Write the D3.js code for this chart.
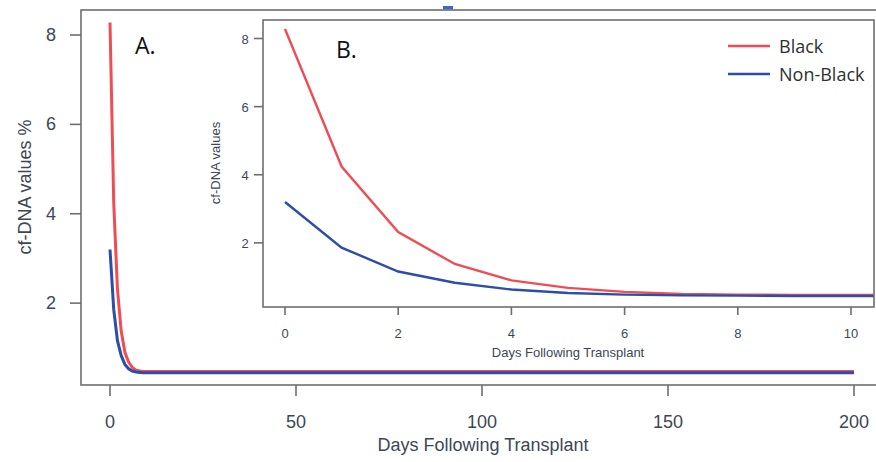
<!DOCTYPE html>
<html lang="en">

<head>
  <meta charset="UTF-8">
  <title>cf-DNA after transplant</title>
  <script src="https://cdnjs.cloudflare.com/ajax/libs/d3/7.8.5/d3.min.js"></script>
  <style>
    body { margin: 0; background: #fff; }
    .frame { fill: none; stroke: #6e6e6e; stroke-width: 1.6px; }
    .tick-line { stroke: #6e6e6e; stroke-width: 1.6px; }
    .tick-label { font-family: "Liberation Sans", Arial, sans-serif; fill: #3d4754; }
    .axis-title { font-family: "Liberation Sans", Arial, sans-serif; fill: #3d4754; }
    .panel-label { font-family: "Open Sans", "Noto Sans", sans-serif; fill: #111; }
    .legend-text { font-family: "Open Sans", "Noto Sans", sans-serif; fill: #2f2f2f; }
  </style>
</head>

<body>
  <div id="chart"></div>
  <script>
    // data
    const days = [0, 1, 2, 3, 4, 5, 6, 7, 8, 9, 10, 200];
    const black = [8.28, 4.24, 2.32, 1.38, 0.9, 0.68, 0.56, 0.5, 0.48, 0.47, 0.47, 0.47];
    const nonBlack = [3.2, 1.86, 1.16, 0.83, 0.63, 0.53, 0.48, 0.46, 0.45, 0.44, 0.44, 0.44];
    const series = ["Black", "Non-Black"];
    const colors = ["#ef4d55", "#2d4ea8"];

    const mainXTicks = [0, 50, 100, 150, 200];
    const mainYTicks = [2, 4, 6, 8];
    const insetXTicks = [0, 2, 4, 6, 8, 10];
    const insetYTicks = [2, 4, 6, 8];

    const width = 876;
    const height = 462;

    const svg = d3.select("#chart")
      .append("svg")
      .attr("width", width)
      .attr("height", height);

    const rows = series.map((name, i) => ({
      name,
      color: colors[i],
      values: days.map((d, j) => ({ day: d, v: i === 0 ? black[j] : nonBlack[j] }))
    }));

    // ---- main panel A ----
    const main = { left: 81, top: 10, right: 890, bottom: 385 };
    const x = d3.scaleLinear().domain([0, 200]).range([110, 854]);
    const y = d3.scaleLinear().domain([0, 8]).range([392.5, 35]);

    svg.append("clipPath").attr("id", "clipMain")
      .append("rect")
      .attr("x", main.left).attr("y", main.top)
      .attr("width", main.right - main.left).attr("height", main.bottom - main.top);

    svg.append("rect").attr("class", "frame")
      .attr("x", main.left).attr("y", main.top)
      .attr("width", main.right - main.left).attr("height", main.bottom - main.top);

    svg.selectAll(".main-xtick")
      .data(mainXTicks)
      .join("line")
      .attr("class", "tick-line")
      .attr("x1", d => x(d)).attr("x2", d => x(d))
      .attr("y1", main.bottom).attr("y2", main.bottom + 11);

    svg.selectAll(".main-xlabel")
      .data(mainXTicks)
      .join("text")
      .attr("class", "tick-label")
      .attr("x", d => x(d))
      .attr("y", 428)
      .attr("text-anchor", "middle")
      .attr("font-size", 18)
      .text(d => d);

    svg.selectAll(".main-ytick")
      .data(mainYTicks)
      .join("line")
      .attr("class", "tick-line")
      .attr("x1", main.left - 11).attr("x2", main.left)
      .attr("y1", d => y(d)).attr("y2", d => y(d));

    svg.selectAll(".main-ylabel")
      .data(mainYTicks)
      .join("text")
      .attr("class", "tick-label")
      .attr("x", 51)
      .attr("y", d => y(d) + 6)
      .attr("text-anchor", "middle")
      .attr("font-size", 18)
      .text(d => d);

    svg.append("text").attr("class", "axis-title")
      .attr("x", 483).attr("y", 451)
      .attr("text-anchor", "middle")
      .attr("font-size", 18)
      .text("Days Following Transplant");

    svg.append("text").attr("class", "axis-title")
      .attr("transform", "translate(31,187) rotate(-90)")
      .attr("text-anchor", "middle")
      .attr("font-size", 18)
      .text("cf-DNA values %");

    const mainLine = d3.line().x(d => x(d.day)).y(d => y(d.v));
    svg.append("g").attr("clip-path", "url(#clipMain)")
      .selectAll("path")
      .data(rows)
      .join("path")
      .attr("fill", "none")
      .attr("stroke", d => d.color)
      .attr("stroke-width", 3)
      .attr("d", d => mainLine(d.values));

    svg.append("text").attr("class", "panel-label")
      .attr("x", 135).attr("y", 54)
      .attr("font-size", 23)
      .text("A.");

    // ---- inset panel B ----
    const inset = { left: 263, top: 20, right: 874, bottom: 307 };
    const xi = d3.scaleLinear().domain([0, 10]).range([285, 851]);
    const yi = d3.scaleLinear().domain([0, 8]).range([311, 38.5]);

    svg.append("clipPath").attr("id", "clipInset")
      .append("rect")
      .attr("x", inset.left).attr("y", inset.top)
      .attr("width", inset.right - inset.left).attr("height", inset.bottom - inset.top);

    svg.append("rect")
      .attr("x", inset.left).attr("y", inset.top)
      .attr("width", inset.right - inset.left).attr("height", inset.bottom - inset.top)
      .attr("fill", "#fff");

    const insetLine = d3.line().x(d => xi(d.day)).y(d => yi(d.v));
    svg.append("g").attr("clip-path", "url(#clipInset)")
      .selectAll("path")
      .data(rows)
      .join("path")
      .attr("fill", "none")
      .attr("stroke", d => d.color)
      .attr("stroke-width", 2.4)
      .attr("d", d => insetLine(d.values));

    svg.append("rect").attr("class", "frame")
      .attr("x", inset.left).attr("y", inset.top)
      .attr("width", inset.right - inset.left).attr("height", inset.bottom - inset.top);

    svg.selectAll(".inset-xtick")
      .data(insetXTicks)
      .join("line")
      .attr("class", "tick-line")
      .attr("x1", d => xi(d)).attr("x2", d => xi(d))
      .attr("y1", inset.bottom).attr("y2", inset.bottom + 8);

    svg.selectAll(".inset-xlabel")
      .data(insetXTicks)
      .join("text")
      .attr("class", "tick-label")
      .attr("x", d => xi(d))
      .attr("y", 338)
      .attr("text-anchor", "middle")
      .attr("font-size", 13)
      .text(d => d);

    svg.selectAll(".inset-ytick")
      .data(insetYTicks)
      .join("line")
      .attr("class", "tick-line")
      .attr("x1", inset.left - 9).attr("x2", inset.left)
      .attr("y1", d => yi(d)).attr("y2", d => yi(d));

    svg.selectAll(".inset-ylabel")
      .data(insetYTicks)
      .join("text")
      .attr("class", "tick-label")
      .attr("x", 245)
      .attr("y", d => yi(d) + 5)
      .attr("text-anchor", "middle")
      .attr("font-size", 13)
      .text(d => d);

    svg.append("text").attr("class", "axis-title")
      .attr("x", 568).attr("y", 357)
      .attr("text-anchor", "middle")
      .attr("font-size", 13)
      .text("Days Following Transplant");

    svg.append("text").attr("class", "axis-title")
      .attr("transform", "translate(220,163) rotate(-90)")
      .attr("text-anchor", "middle")
      .attr("font-size", 13)
      .text("cf-DNA values");

    svg.append("text").attr("class", "panel-label")
      .attr("x", 336).attr("y", 58)
      .attr("font-size", 23)
      .text("B.");

    // legend
    const legend = svg.selectAll(".legend")
      .data(rows)
      .join("g")
      .attr("transform", (d, i) => `translate(728,${46 + i * 28})`);

    legend.append("line")
      .attr("x1", 0).attr("x2", 42)
      .attr("stroke", d => d.color)
      .attr("stroke-width", 2.4);

    legend.append("text")
      .attr("class", "legend-text")
      .attr("x", 51).attr("y", 6.5)
      .attr("font-size", 18)
      .text(d => d.name);

    // small blue handle mark at top of the picture
    svg.append("rect")
      .attr("x", 443).attr("y", 6)
      .attr("width", 10).attr("height", 3.5)
      .attr("fill", "#3b6cc4");
  </script>
</body>

</html>
